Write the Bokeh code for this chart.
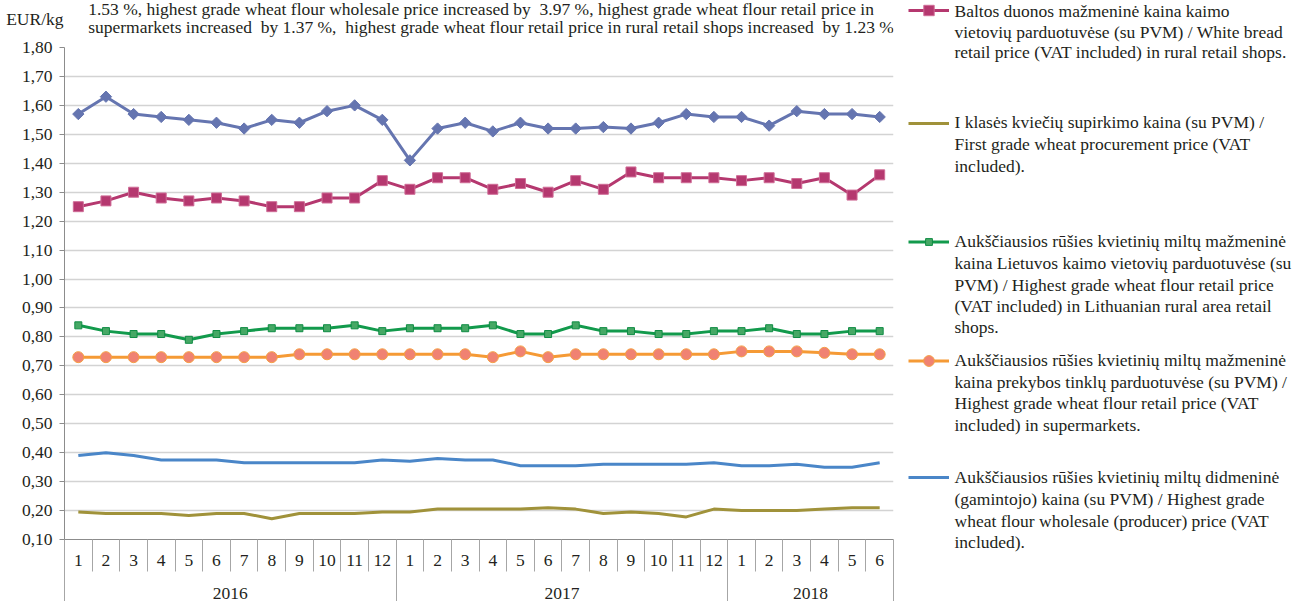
from bokeh.plotting import figure
from bokeh.layouts import row, column
from bokeh.models import (Range1d, FixedTicker, LinearAxis, CustomJSTickFormatter,
                          Legend, LegendItem, Label, LabelSet, ColumnDataSource)
from bokeh.embed import file_html
from bokeh.resources import INLINE

# ---------------- data ----------------
months = ["1", "2", "3", "4", "5", "6", "7", "8", "9", "10", "11", "12",
          "1", "2", "3", "4", "5", "6", "7", "8", "9", "10", "11", "12",
          "1", "2", "3", "4", "5", "6"]
years = ["2016", "2017", "2018"]
months_per_year = [12, 12, 6]

y_ticks = [0.10, 0.20, 0.30, 0.40, 0.50, 0.60, 0.70, 0.80, 0.90,
           1.00, 1.10, 1.20, 1.30, 1.40, 1.50, 1.60, 1.70, 1.80]

rye_bread = [1.57, 1.63, 1.57, 1.56, 1.55, 1.54, 1.52, 1.55, 1.54, 1.58, 1.60, 1.55,
             1.41, 1.52, 1.54, 1.51, 1.54, 1.52, 1.52, 1.525, 1.52, 1.54, 1.57, 1.56,
             1.56, 1.53, 1.58, 1.57, 1.57, 1.56]
white_bread = [1.25, 1.27, 1.30, 1.28, 1.27, 1.28, 1.27, 1.25, 1.25, 1.28, 1.28, 1.34,
               1.31, 1.35, 1.35, 1.31, 1.33, 1.30, 1.34, 1.31, 1.37, 1.35, 1.35, 1.35,
               1.34, 1.35, 1.33, 1.35, 1.29, 1.36]
flour_rural = [0.84, 0.82, 0.81, 0.81, 0.79, 0.81, 0.82, 0.83, 0.83, 0.83, 0.84, 0.82,
               0.83, 0.83, 0.83, 0.84, 0.81, 0.81, 0.84, 0.82, 0.82, 0.81, 0.81, 0.82,
               0.82, 0.83, 0.81, 0.81, 0.82, 0.82]
flour_super = [0.73, 0.73, 0.73, 0.73, 0.73, 0.73, 0.73, 0.73, 0.74, 0.74, 0.74, 0.74,
               0.74, 0.74, 0.74, 0.73, 0.75, 0.73, 0.74, 0.74, 0.74, 0.74, 0.74, 0.74,
               0.75, 0.75, 0.75, 0.745, 0.74, 0.74]
flour_wholesale = [0.39, 0.40, 0.39, 0.375, 0.375, 0.375, 0.365, 0.365, 0.365, 0.365, 0.365, 0.375,
                   0.37, 0.38, 0.375, 0.375, 0.355, 0.355, 0.355, 0.36, 0.36, 0.36, 0.36, 0.365,
                   0.355, 0.355, 0.36, 0.35, 0.35, 0.365]
wheat_procurement = [0.195, 0.19, 0.19, 0.19, 0.183, 0.19, 0.19, 0.172, 0.19, 0.19, 0.19, 0.195,
                     0.195, 0.205, 0.205, 0.205, 0.205, 0.21, 0.205, 0.19, 0.195, 0.19, 0.178, 0.205,
                     0.20, 0.20, 0.20, 0.205, 0.21, 0.21]

legend_texts = [
    ["Baltos duonos mažmeninė kaina kaimo",
     "vietovių parduotuvėse (su PVM) / White bread",
     "retail price (VAT included) in rural retail shops."],
    ["I klasės kviečių supirkimo kaina (su PVM) /",
     "First grade wheat procurement price (VAT",
     "included)."],
    ["Aukščiausios rūšies kvietinių miltų mažmeninė",
     "kaina Lietuvos kaimo vietovių parduotuvėse (su",
     "PVM) / Highest grade wheat flour retail price",
     "(VAT included) in Lithuanian rural area retail",
     "shops."],
    ["Aukščiausios rūšies kvietinių miltų mažmeninė",
     "kaina prekybos tinklų parduotuvėse (su PVM) /",
     "Highest grade wheat flour retail price (VAT",
     "included) in supermarkets."],
    ["Aukščiausios rūšies kvietinių miltų didmeninė",
     "(gamintojo) kaina (su PVM) / Highest grade",
     "wheat flour wholesale (producer) price (VAT",
     "included)."],
]

note_lines = [
    "1.53 %, highest grade wheat flour wholesale price increased by\u00a0 3.97 %, highest grade wheat flour retail price in",
    "supermarkets increased\u00a0 by 1.37 %,\u00a0 highest grade wheat flour retail price in rural retail shops increased\u00a0 by 1.23 %.",
]
unit_label = "EUR/kg"

# ---------------- geometry (page pixels) ----------------
FONT = "Liberation Serif"
FS = "17.5px"
TXT = "#231f20"
AX = "#8c8c8c"
SEP = "#a6a6a6"

W, H = 1296, 601
SPLIT = 905          # left block | legend block
TOP = 37             # height of the note strip
FL, FR, FT, FB = 64, 893, 47, 540

n = len(months)
xs = list(range(1, n + 1))


def blank(width, height, x0, x1, y0, y1, left=0):
    f = figure(width=width, height=height, output_backend="svg", toolbar_location=None,
               x_range=Range1d(x0, x1), y_range=Range1d(y1, y0),
               x_axis_type=None, y_axis_type=None,
               min_border_left=left, min_border_right=0, min_border_top=0, min_border_bottom=0)
    f.outline_line_color = None
    f.background_fill_color = "white"
    f.border_fill_color = "white"
    return f


# ---------------- note strip (frame starts at the chart's left edge) ----------------
top = blank(SPLIT, TOP, FL, SPLIT, 0, TOP, left=FL)
unit_axis = LinearAxis(ticker=FixedTicker(ticks=[]), axis_label=unit_label,
                       axis_label_orientation="horizontal", axis_label_standoff=1,
                       axis_label_text_font=FONT, axis_label_text_font_size=FS,
                       axis_label_text_font_style="normal", axis_label_text_color=TXT,
                       axis_line_color=None, major_tick_line_color=None, minor_tick_line_color=None,
                       major_label_text_font_size="0px")
top.add_layout(unit_axis, "left")
top.add_layout(Label(x=88, y=8.5, text=note_lines[0], text_font=FONT, text_font_size=FS,
                     text_color=TXT, text_baseline="middle"))
top.add_layout(Label(x=88, y=26.5, text=note_lines[1], text_font=FONT, text_font_size=FS,
                     text_color=TXT, text_baseline="middle"))

# ---------------- chart ----------------
p = figure(width=SPLIT, height=H - TOP, output_backend="svg", toolbar_location=None,
           x_range=Range1d(0.5, n + 0.5), y_range=Range1d(y_ticks[0], y_ticks[-1]),
           x_axis_type=None, y_axis_location="left",
           min_border_left=FL, min_border_right=SPLIT - FR,
           min_border_top=FT - TOP, min_border_bottom=H - FB)
p.outline_line_color = None
p.background_fill_color = "white"
p.border_fill_color = "white"

ya = p.yaxis[0]
ya.ticker = FixedTicker(ticks=y_ticks)
ya.formatter = CustomJSTickFormatter(code="return tick.toFixed(2).replace('.', ',')")
ya.major_tick_out = 5
ya.major_tick_in = 0
ya.minor_tick_out = 0
ya.minor_tick_in = 0
ya.axis_line_color = AX
ya.major_tick_line_color = AX
ya.major_label_standoff = 7
ya.major_label_text_font = FONT
ya.major_label_text_font_size = FS
ya.major_label_text_color = TXT

p.ygrid.ticker = FixedTicker(ticks=y_ticks)
p.ygrid.grid_line_color = "#d3d3d3"
p.ygrid.grid_line_width = 1.3
p.xgrid.visible = False

# month axis
month_edges = [i + 0.5 for i in range(0, n + 1)]
mx = LinearAxis(ticker=FixedTicker(ticks=xs, minor_ticks=month_edges),
                formatter=CustomJSTickFormatter(args=dict(labels=months),
                                                code="return labels[Math.round(tick) - 1]"))
mx.axis_line_color = AX
mx.major_tick_out = 0
mx.major_tick_in = 0
mx.minor_tick_out = 32
mx.minor_tick_in = 0
mx.minor_tick_line_color = SEP
mx.major_label_standoff = -17
mx.major_label_text_font = FONT
mx.major_label_text_font_size = FS
mx.major_label_text_color = TXT
p.add_layout(mx, "below")

# year axis
year_edges = [0.5]
year_centers = []
acc = 0
for k in months_per_year:
    year_centers.append(acc + k / 2 + 0.5)
    acc += k
    year_edges.append(acc + 0.5)
yx = LinearAxis(ticker=FixedTicker(ticks=year_centers, minor_ticks=year_edges),
                formatter=CustomJSTickFormatter(args=dict(labels=years, centers=year_centers),
                                                code="return labels[centers.indexOf(tick)]"))
yx.axis_line_color = None
yx.major_tick_out = 0
yx.major_tick_in = 0
yx.minor_tick_in = 28
yx.minor_tick_out = 34
yx.minor_tick_line_color = SEP
yx.major_label_standoff = -15
yx.major_label_text_font = FONT
yx.major_label_text_font_size = FS
yx.major_label_text_color = TXT
p.add_layout(yx, "below")

# ---------------- series ----------------
styles = {
    "wheat": dict(color="#a0923a"),
    "whole": dict(color="#4a86c8"),
    "super": dict(color="#f59a35", marker="circle", size=11, fill="#f08272", edge="#f5a045"),
    "rural": dict(color="#129a4c", marker="square", size=7, fill="#46a865", edge="#0f8c44"),
    "white": dict(color="#b5386f", marker="square", size=10, fill="#b5386f", edge="#cf6c96"),
    "rye": dict(color="#6575b0", marker="square", size=8, fill="#6575b0", edge="#6575b0", angle=0.785398),
}
values = {"wheat": wheat_procurement, "whole": flour_wholesale, "super": flour_super,
          "rural": flour_rural, "white": white_bread, "rye": rye_bread}


def series(fig, xv, vals, color, marker=None, size=10, fill=None, edge=None, angle=0.0):
    lr = fig.line(xv, vals, line_color=color, line_width=3, line_join="round")
    mr = None
    if marker:
        mr = fig.scatter(xv, vals, marker=marker, size=size, angle=angle,
                         fill_color=fill or color, line_color=edge or color, line_width=1)
    return [r for r in (lr, mr) if r is not None]


for key in ["wheat", "whole", "super", "rural", "white", "rye"]:
    series(p, xs, values[key], **styles[key])

# ---------------- legend block ----------------
lg_fig = blank(W - SPLIT, H, SPLIT, W, 0, H)
sample_specs = [("white", 10, 26), ("wheat", 123, 20), ("rural", 241, 17),
                ("super", 360, 27), ("whole", 477, 20)]
for key, cy, h in sample_specs:
    # same series, drawn outside this panel's visible range: only the legend glyph shows
    rends = series(lg_fig, xs, values[key], **styles[key])
    lg = Legend(items=[LegendItem(label=" ", renderers=rends)],
                location=(908 - SPLIT, H - cy - h / 2),
                glyph_width=41, glyph_height=h, label_width=0, label_height=h,
                label_standoff=0, padding=0, margin=0, spacing=0,
                border_line_color=None, background_fill_alpha=0,
                label_text_font_size="1px")
    lg_fig.add_layout(lg)

line_centers = [[12, 32.5, 53], [123, 145, 166.5], [242, 264, 285.5, 307, 328],
                [361, 382.5, 404, 425.5], [478, 500, 521.5, 543]]
lx, ly, lt = [], [], []
for texts, cys in zip(legend_texts, line_centers):
    for t, c in zip(texts, cys):
        lx.append(954)
        ly.append(c - 1.5)
        lt.append(t)
lg_fig.add_layout(LabelSet(x="x", y="y", text="text",
                           source=ColumnDataSource(dict(x=lx, y=ly, text=lt)),
                           text_font=FONT, text_font_size=FS, text_color=TXT,
                           text_baseline="middle", text_align="left"))

layout = row(column(top, p), lg_fig)
open("out.html", "w").write(file_html(layout, INLINE))
